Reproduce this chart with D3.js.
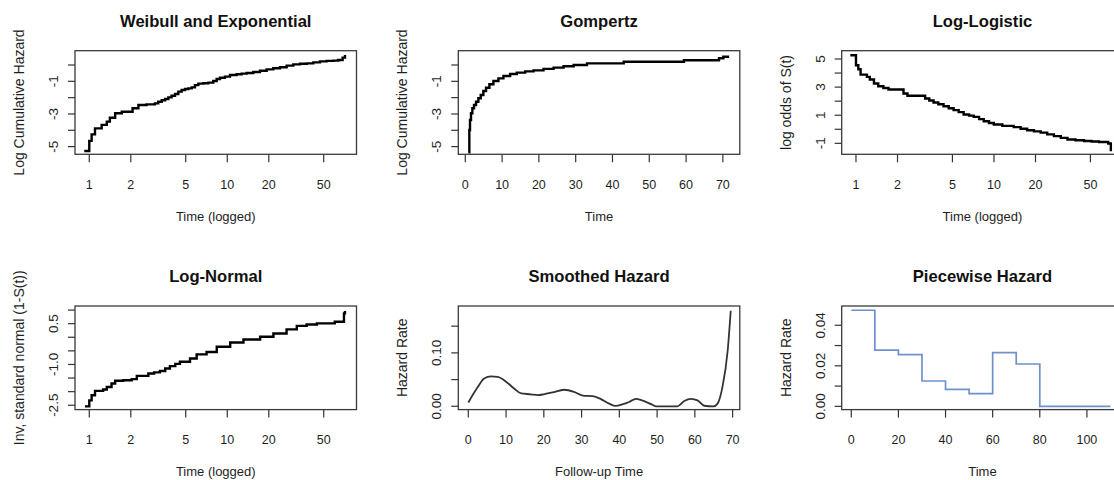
<!DOCTYPE html>
<html><head><meta charset="utf-8">
<script src="https://cdn.jsdelivr.net/npm/d3@7"></script>
<style>
body{margin:0;background:#fff}
svg{display:block;font-family:"Liberation Sans",Arial,sans-serif}
</style>
</head><body><svg id="c" width="1114" height="480"></svg>
<script>
// ---------- DATA ----------
const weibullTime = [0.92,1.0,1.04,1.10,1.23,1.34,1.41,1.54,1.72,2.06,2.27,2.60,2.99,3.16,3.35,3.54,3.74,3.95,4.18,4.42,4.67,4.94,5.22,5.52,5.83,6.17,6.71,7.29,7.92,8.38,8.86,9.62,10.46,11.69,12.71,13.82,15.44,17.26,19.29,21.56,24.10,26.93,30.10,33.64,37.60,42.02,46.96,52.48,58.65,63.76,68.55,71.3];
const weibullLogCumHaz = [-5.27,-4.65,-4.25,-3.88,-3.67,-3.47,-3.23,-2.96,-2.86,-2.65,-2.45,-2.41,-2.35,-2.25,-2.16,-2.08,-1.98,-1.88,-1.78,-1.63,-1.53,-1.47,-1.43,-1.37,-1.23,-1.14,-1.12,-1.08,-0.98,-0.86,-0.78,-0.71,-0.61,-0.57,-0.53,-0.49,-0.43,-0.35,-0.27,-0.20,-0.14,-0.04,0.04,0.08,0.10,0.16,0.22,0.25,0.27,0.31,0.45,0.61];

const gompertzTime = [0.83,1.10,1.28,1.55,1.92,2.37,2.92,3.55,4.19,4.91,5.64,6.55,7.64,9.00,10.36,12.18,14.0,16.27,18.54,21.26,23.99,26.71,29.44,33.07,43.06,59.41,68.94,70.13,71.7];
const gompertzLogCumHaz = [-5.35,-3.98,-3.37,-2.96,-2.65,-2.45,-2.25,-2.04,-1.84,-1.59,-1.39,-1.18,-0.98,-0.82,-0.67,-0.55,-0.47,-0.39,-0.33,-0.24,-0.16,-0.08,0.0,0.10,0.20,0.29,0.41,0.51,0.51];

const logisticTime = [0.91,1.0,1.04,1.08,1.20,1.26,1.35,1.45,1.58,1.72,2.21,2.36,3.17,3.40,3.65,3.95,4.31,4.70,5.10,5.55,6.03,6.60,7.13,7.80,8.43,9.20,9.97,11.5,13.9,15.6,17.4,19.5,21.8,24.3,27.2,30.5,34.1,39.0,45.0,51.0,57.8,67.3,70.3];
const logisticLogOdds = [5.27,4.56,4.27,3.89,3.73,3.54,3.26,3.06,2.94,2.83,2.54,2.38,2.19,2.05,1.90,1.78,1.64,1.50,1.36,1.22,1.05,0.97,0.88,0.72,0.57,0.45,0.34,0.24,0.15,0.04,-0.07,-0.15,-0.24,-0.36,-0.49,-0.61,-0.73,-0.78,-0.83,-0.87,-0.90,-1.01,-1.56];

const lognormTime = [0.93,1.0,1.04,1.10,1.26,1.34,1.45,1.54,1.76,2.03,2.21,2.68,2.95,3.25,3.55,3.84,4.20,4.54,5.37,6.0,7.08,8.39,10.5,13.1,17.3,21.6,26.9,31.9,37.6,44.6,60.1,70.1,71.3];
const lognormInvNorm = [-2.54,-2.32,-2.13,-1.97,-1.92,-1.83,-1.70,-1.60,-1.58,-1.54,-1.42,-1.33,-1.29,-1.24,-1.15,-1.06,-0.98,-0.90,-0.78,-0.63,-0.54,-0.35,-0.19,-0.08,0.02,0.14,0.29,0.42,0.47,0.51,0.57,0.88,0.97];

const smoothTime = [0,2.5,4.2,6,7.8,10,12.2,14,16.6,18.4,20,22.3,25.4,28,30.3,33,35,37.3,39,41,42.6,44.4,46,48.4,49.7,55.4,57.2,59,60.7,62.5,65,66,67.3,68.7,69.5];
const smoothHazard = [0.007,0.036,0.052,0.056,0.055,0.046,0.033,0.024,0.0225,0.021,0.0225,0.026,0.031,0.027,0.020,0.019,0.014,0.005,0.0006,0.004,0.008,0.014,0.011,0.004,0,0,0.010,0.014,0.011,0.001,0,0.005,0.036,0.105,0.179];

const pieceBreaks = [0,10,20,30,40,50,60,70,80,110];
const pieceRates = [0.0474,0.0277,0.0255,0.0125,0.0084,0.0063,0.0265,0.0209,0.0,0.0];

const logTicks = [1,2,5,10,20,50];
const logTickLabels = ["1","2","5","10","20","50"];
const time70Ticks = [0,10,20,30,40,50,60,70];
const time70Labels = ["0","10","20","30","40","50","60","70"];
const time100Ticks = [0,20,40,60,80,100];
const time100Labels = ["0","20","40","60","80","100"];
const cumHazTicks = [-5,-4,-3,-2,-1,0];
const cumHazLabels = {"-5":"-5","-3":"-3","-1":"-1"};
const logOddsTicks = [-1,0,1,2,3,4,5];
const logOddsLabels = {"-1":"-1","1":"1","3":"3","5":"5"};
const invNormTicks = [-2.5,-2,-1.5,-1,-0.5,0,0.5,1];
const invNormLabels = {"-2.5":"-2.5","-1":"-1.0","0.5":"0.5"};
const smoothTicks = [0,0.05,0.10,0.15];
const smoothLabels = {"0":"0.00","0.1":"0.10"};
const pieceTicks = [0,0.01,0.02,0.03,0.04];
const pieceLabels = {"0":"0.00","0.02":"0.02","0.04":"0.04"};

// ---------- LAYOUT ----------
const svg = d3.select("#c");
const colX = [75, 458.3, 841.7];
const rowY = [50.7, 306];
const boxW = 281.5, boxH = 103.6;
const textCol = "#1e1e1e";

function panel(o){
  const x0 = colX[o.col], y0 = rowY[o.row];
  const g = svg.append("g");
  const xs = (o.xlog ? d3.scaleLog() : d3.scaleLinear()).domain(o.xDomain).range([x0, x0+boxW]);
  const ys = d3.scaleLinear().domain(o.yDomain).range([y0+boxH, y0]);
  const clipId = "clip"+o.col+o.row;
  g.append("clipPath").attr("id",clipId).append("rect")
    .attr("x",x0).attr("y",y0).attr("width",boxW).attr("height",boxH);
  // title
  g.append("text").attr("x",x0+boxW/2).attr("y",y0-24).attr("text-anchor","middle")
    .attr("font-size",16.6).attr("font-weight","bold").attr("fill","#111").text(o.title);
  // x ticks
  o.xTicks.forEach((t,i)=>{
    const px = xs(t);
    g.append("line").attr("x1",px).attr("x2",px).attr("y1",y0+boxH).attr("y2",y0+boxH+8)
      .attr("stroke","#333").attr("stroke-width",1.2);
    g.append("text").attr("x",px).attr("y",y0+boxH+34.7).attr("text-anchor","middle")
      .attr("font-size",12.5).attr("fill",textCol).text(o.xLabels[i]);
  });
  g.append("text").attr("x",x0+boxW/2).attr("y",y0+boxH+66.5).attr("text-anchor","middle")
    .attr("font-size",13).attr("fill",textCol).text(o.xlab);
  // y ticks
  o.yTicks.forEach(t=>{
    const py = ys(t);
    g.append("line").attr("x1",x0-7).attr("x2",x0).attr("y1",py).attr("y2",py)
      .attr("stroke","#333").attr("stroke-width",1.2);
    const lab = o.yLabels[String(t)];
    if(lab!==undefined){
      g.append("text").attr("transform",`translate(${x0-17},${py}) rotate(-90)`)
        .attr("text-anchor","middle").attr("font-size",13.5).attr("fill",textCol).text(lab);
    }
  });
  g.append("text").attr("transform",`translate(${x0-51},${y0+boxH/2}) rotate(-90)`)
    .attr("text-anchor","middle").attr("font-size",14).attr("fill",textCol).text(o.ylab);
  // series
  o.series.forEach(s=>{
    const pts = s.x.map((v,i)=>[v,s.y[i]]);
    const line = d3.line().x(d=>xs(d[0])).y(d=>ys(d[1])).curve(s.curve);
    g.append("path").attr("d",line(pts)).attr("fill","none")
      .attr("stroke",s.color).attr("stroke-width",s.width)
      .attr("stroke-linejoin","miter").attr("clip-path",`url(#${clipId})`);
  });
  // box
  g.append("rect").attr("x",x0).attr("y",y0).attr("width",boxW).attr("height",boxH)
    .attr("fill","none").attr("stroke","#3a3a3a").attr("stroke-width",1.3);
}

panel({col:0,row:0,title:"Weibull and Exponential",xlab:"Time (logged)",ylab:"Log Cumulative Hazard",
  xlog:true,xDomain:[0.788,86.4],yDomain:[-5.47,0.876],
  xTicks:logTicks,xLabels:logTickLabels,yTicks:cumHazTicks,yLabels:cumHazLabels,
  series:[{x:weibullTime,y:weibullLogCumHaz,curve:d3.curveStepAfter,color:"#000",width:2.4}]});

panel({col:1,row:0,title:"Gompertz",xlab:"Time",ylab:"Log Cumulative Hazard",
  xlog:false,xDomain:[-1.9,74.6],yDomain:[-5.47,0.876],
  xTicks:time70Ticks,xLabels:time70Labels,yTicks:cumHazTicks,yLabels:cumHazLabels,
  series:[{x:gompertzTime,y:gompertzLogCumHaz,curve:d3.curveStepAfter,color:"#000",width:2.4}]});

panel({col:2,row:0,title:"Log-Logistic",xlab:"Time (logged)",ylab:"log odds of S(t)",
  xlog:true,xDomain:[0.788,86.4],yDomain:[-1.78,5.59],
  xTicks:logTicks,xLabels:logTickLabels,yTicks:logOddsTicks,yLabels:logOddsLabels,
  series:[{x:logisticTime,y:logisticLogOdds,curve:d3.curveStepAfter,color:"#000",width:2.4}]});

panel({col:0,row:1,title:"Log-Normal",xlab:"Time (logged)",ylab:"Inv, standard normal (1-S(t))",
  xlog:true,xDomain:[0.788,86.4],yDomain:[-2.66,1.15],
  xTicks:logTicks,xLabels:logTickLabels,yTicks:invNormTicks,yLabels:invNormLabels,
  series:[{x:lognormTime,y:lognormInvNorm,curve:d3.curveStepAfter,color:"#000",width:2.4}]});

panel({col:1,row:1,title:"Smoothed Hazard",xlab:"Follow-up Time",ylab:"Hazard Rate",
  xlog:false,xDomain:[-2.65,71.9],yDomain:[-0.0062,0.1878],
  xTicks:time70Ticks,xLabels:time70Labels,yTicks:smoothTicks,yLabels:smoothLabels,
  series:[{x:smoothTime,y:smoothHazard,curve:d3.curveMonotoneX,color:"#333",width:1.8}]});

panel({col:2,row:1,title:"Piecewise Hazard",xlab:"Time",ylab:"Hazard Rate",
  xlog:false,xDomain:[-4.07,115.4],yDomain:[-0.0016,0.0495],
  xTicks:time100Ticks,xLabels:time100Labels,yTicks:pieceTicks,yLabels:pieceLabels,
  series:[{x:pieceBreaks,y:pieceRates,curve:d3.curveStepAfter,color:"#7090cc",width:1.7}]});
</script>
</body></html>
